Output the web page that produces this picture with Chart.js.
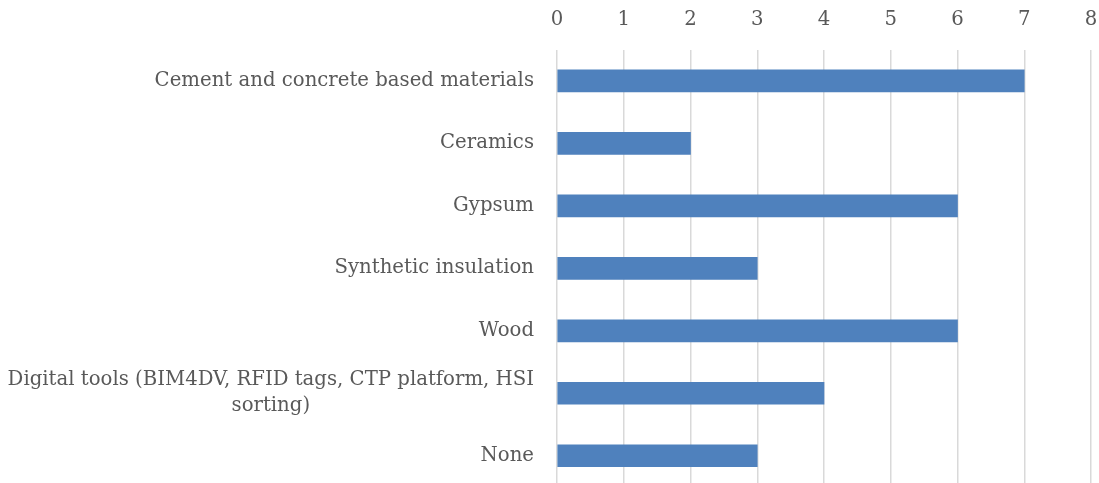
<!DOCTYPE html>
<html>
<head>
<meta charset="utf-8">
<script src="https://cdn.jsdelivr.net/npm/chart.js@4/dist/chart.umd.min.js"></script>
<style>
  html, body { margin: 0; padding: 0; background: #ffffff; overflow: hidden; }
  #wrap { position: relative; width: 1099px; height: 487px; }
</style>
</head>
<body>
<div id="wrap"><canvas id="c"></canvas></div>
<script>
const categories = [
  'Cement and concrete based materials',
  'Ceramics',
  'Gypsum',
  'Synthetic insulation',
  'Wood',
  ['Digital tools (BIM4DV, RFID tags, CTP platform, HSI', 'sorting)'],
  'None'
];
const counts = [7, 2, 6, 3, 6, 4, 3];
const xTicks = [0, 1, 2, 3, 4, 5, 6, 7, 8];

const FONT = '"DejaVu Serif", serif';
const FONT_SIZE = 19.7;
const TEXT = '#595959';
const LABEL_RIGHT = 534;

// Category labels: each block sits right-aligned against the axis, with
// the lines of a wrapped label centred on one another.
const categoryLabels = {
  id: 'categoryLabels',
  afterDraw(chart) {
    const ctx = chart.ctx;
    const y = chart.scales.y;
    ctx.save();
    ctx.font = FONT_SIZE + 'px ' + FONT;
    ctx.fillStyle = TEXT;
    ctx.textAlign = 'center';
    ctx.textBaseline = 'middle';
    const lh = 26;
    categories.forEach((lab, i) => {
      const lines = Array.isArray(lab) ? lab : [lab];
      const w = Math.max(...lines.map(l => ctx.measureText(l).width));
      const cx = LABEL_RIGHT - w / 2;
      const cy = y.getPixelForTick(i);
      const y0 = cy - (lines.length - 1) * lh / 2;
      lines.forEach((l, k) => ctx.fillText(l, cx, y0 + k * lh));
    });
    ctx.restore();
  }
};

new Chart(document.getElementById('c'), {
  type: 'bar',
  data: {
    labels: categories,
    datasets: [{
      data: counts,
      backgroundColor: '#4F81BD',
      borderWidth: 0,
      barThickness: 22
    }]
  },
  options: {
    indexAxis: 'y',
    responsive: true,
    maintainAspectRatio: false,
    animation: false,
    layout: { padding: { top: 8, right: 8, bottom: 0, left: 0 } },
    plugins: { legend: { display: false }, tooltip: { enabled: false } },
    scales: {
      x: {
        position: 'top',
        min: 0,
        max: 8,
        afterBuildTicks(s) { s.ticks = xTicks.map(v => ({ value: v })); },
        ticks: { color: TEXT, font: { family: FONT, size: FONT_SIZE }, padding: 0 },
        grid: {
          color: '#d9d9d9',
          lineWidth: 1.5,
          drawTicks: true,
          tickLength: 18,
          tickColor: 'rgba(0,0,0,0)'
        },
        border: { display: false }
      },
      y: {
        ticks: { display: false },
        grid: { display: false },
        border: { display: false },
        afterFit(s) { s.width = 557; }
      }
    }
  },
  plugins: [categoryLabels]
});
</script>
</body>
</html>
